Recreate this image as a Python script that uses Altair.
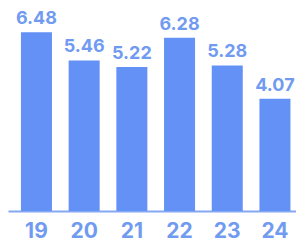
import altair as alt
import pandas as pd

years = ["19", "20", "21", "22", "23", "24"]
values = [6.48, 5.46, 5.22, 6.28, 5.28, 4.07]
labels = ["6.48", "5.46", "5.22", "6.28", "5.28", "4.07"]

df = pd.DataFrame({"year": years, "value": values, "label": labels})

bar_color = "#6391F6"
text_color = "#719BF1"
font = "Inter"

x = alt.X("year:N", sort=years,
          scale=alt.Scale(paddingInner=0.35, paddingOuter=0.194, align=0.7),
          axis=alt.Axis(title=None, domain=True, domainColor="#86A8F3", domainWidth=2,
                        ticks=False, labelAngle=0, labelFont=font, labelFontSize=21,
                        labelFontWeight="bold", labelColor=text_color, labelPadding=9,
                        grid=False))
y = alt.Y("value:Q", scale=alt.Scale(domain=[0, 7], nice=False, zero=True), axis=None)

bars = alt.Chart(df).mark_bar(color=bar_color).encode(x=x, y=y)
text = alt.Chart(df).mark_text(baseline="alphabetic", dy=-8, font=font, fontSize=18,
                               fontWeight="bold", color=text_color).encode(
    x=alt.X("year:N", sort=years), y="value:Q", text="label:N")

chart = (bars + text).properties(
    width=288, height=193,
    autosize=alt.AutoSizeParams(type="none"),
    padding={"left": 0, "top": 10, "right": 0, "bottom": 30},
).configure_view(stroke=None)

chart.save("out.html", embed_options={"renderer": "svg", "actions": False})
